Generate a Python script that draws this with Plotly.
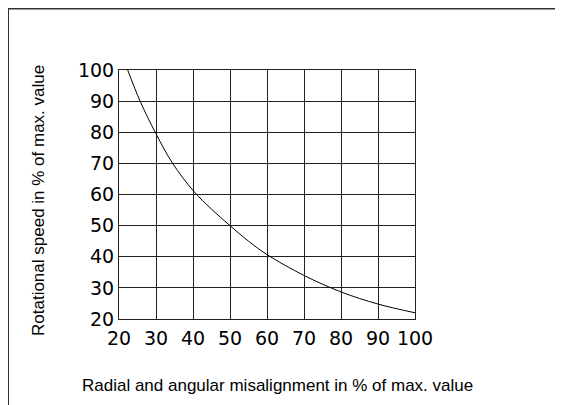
import plotly.graph_objects as go

# Data
misalignment = [22.35, 25.7, 30, 34.5, 40, 45, 50, 55, 60, 70, 80, 90, 100]
speed = [100, 90, 79.5, 70, 61.3, 55.3, 50.0, 45.0, 40.7, 34.0, 28.7, 24.8, 22.0]
ticks = [20, 30, 40, 50, 60, 70, 80, 90, 100]

x_title = "Radial and angular misalignment in % of max. value"
y_title = "Rotational speed in % of max. value"

W, H = 563, 405
L, R, T, B = 111, 407, 62, 311

fig = go.Figure()
fig.add_trace(go.Scatter(x=misalignment, y=speed, mode="lines",
                         line=dict(color="black", width=1, shape="spline", smoothing=1.0),
                         hoverinfo="skip", showlegend=False))

tick_family = "DejaVu Sans, Verdana, sans-serif"
title_family = "Liberation Sans, Arial, Helvetica, sans-serif"
axis_common = dict(range=[20, 100], tickvals=ticks, ticktext=[str(t) for t in ticks],
                   showgrid=True, gridcolor="#222", gridwidth=1,
                   showline=True, linecolor="#222", linewidth=1, mirror=True,
                   zeroline=False, ticks="", fixedrange=True,
                   tickfont=dict(size=19, color="black", family=tick_family))

fig.update_layout(
    width=W, height=H,
    margin=dict(l=L, r=W - R, t=T, b=H - B, pad=0),
    paper_bgcolor="white", plot_bgcolor="white",
    xaxis=dict(**axis_common, ticklabelstandoff=2),
    yaxis=dict(**axis_common, ticklabelstandoff=0),
)

def px_to_paper_x(px):
    return (px - L) / (R - L)

def px_to_paper_y(py):
    return (B - py) / (B - T)

fig.add_annotation(text=x_title, xref="paper", yref="paper",
                   x=px_to_paper_x(269), y=px_to_paper_y(377),
                   xanchor="center", yanchor="middle", showarrow=False,
                   font=dict(size=17, color="black", family=title_family))
fig.add_annotation(text=y_title, xref="paper", yref="paper",
                   x=px_to_paper_x(30), y=px_to_paper_y(193), textangle=-90,
                   xanchor="center", yanchor="middle", showarrow=False,
                   font=dict(size=17, color="black", family=title_family))

fig.add_shape(type="rect", xref="paper", yref="paper",
              x0=px_to_paper_x(0), x1=px_to_paper_x(600),
              y0=px_to_paper_y(440), y1=px_to_paper_y(0.5),
              line=dict(color="#333", width=2), layer="below")

fig.write_html("out.html")
